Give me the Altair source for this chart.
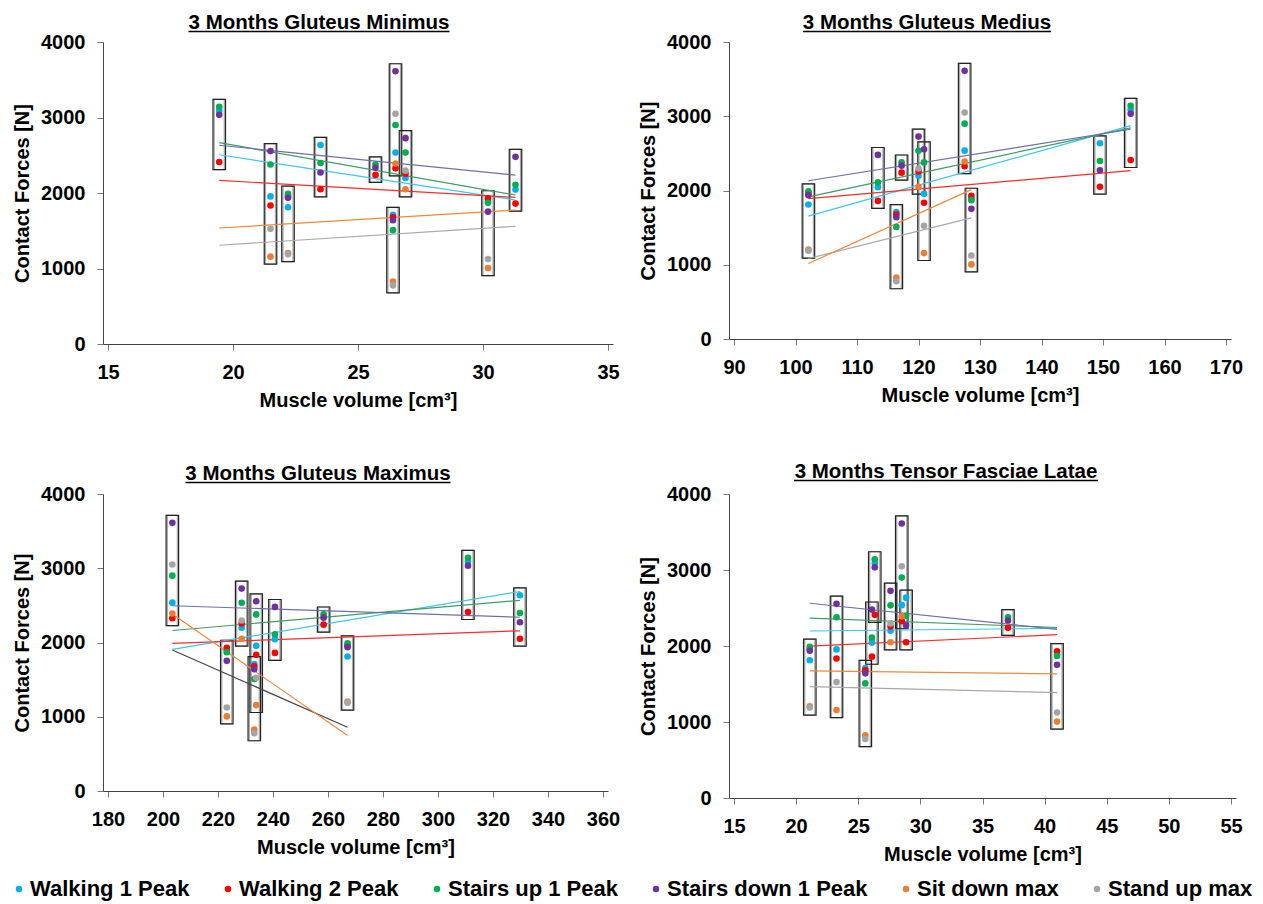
import altair as alt
import pandas as pd

# ---------------- data ----------------
subjects = ["S1", "S2", "S3", "S4", "S5", "S6", "S7", "S8", "S9", "S10"]

# muscle volumes [cm³] per subject
vol_gmin = [19.45, 21.5, 22.2, 23.5, 25.7, 26.5, 26.4, 26.9, 30.2, 31.3]
vol_gmed = [154.5, 120.9, 102.1, 149.5, 117.25, 127.5, 116.4, 120.0, 128.6, 113.4]
vol_gmax = [310.9, 233.9, 267.1, 329.8, 258.4, 203.4, 233.2, 228.6, 223.2, 240.7]
vol_tfl = [26.33, 23.25, 21.1, 28.85, 37.05, 28.5, 25.57, 27.6, 41.0, 26.1]

# contact forces [N] per subject
walking1 = [3090, 1955, 1812, 2636, None, 2537, 1710, 2200, 1895, 2045]
walking2 = [2410, 1835, 1960, 2050, 2240, 2327, 1680, 2256, 1930, 1860]
stairs_up = [3140, 2378, 1990, 2398, 2378, 2900, 1508, 2535, 1870, 2110]
stairs_down = [3035, 2555, 1937, 2272, 2335, 3612, 1640, 2726, 1753, 2479]
sit_down = [None, 1157, 1205, None, None, 2390, 826, 2050, 1005, None]
stand_up = [None, 1525, 1190, None, None, 3050, 777, 2296, 1125, None]

series_names = ["Walking 1 Peak", "Walking 2 Peak", "Stairs up 1 Peak",
                "Stairs down 1 Peak", "Sit down max", "Stand up max"]
forces = [walking1, walking2, stairs_up, stairs_down, sit_down, stand_up]

dot_colors = ["#00B0F0", "#FF0000", "#00B050", "#7030A0", "#ED7D31", "#A5A5A5"]
line_colors = ["#3CC6F2", "#FF2A2A", "#3F9C64", "#6E6EAA", "#A8A8A8", "#F0883A"]
line_colors_dark = ["#3CC6F2", "#FF2A2A", "#3F9C64", "#6E6EAA", "#454545", "#F0883A"]

FONT = "Liberation Sans, Arial, sans-serif"
Y_TICKS = [0, 1000, 2000, 3000, 4000]


def make_panel(title, vols, xdom, xticks, w, h, extent, lcolors, title_cx, title_w,
               title_y=-13):
    rows = []
    for k, name in enumerate(series_names):
        for i, s in enumerate(subjects):
            v = forces[k][i]
            if v is not None:
                rows.append({"subject": s, "volume": vols[i], "force": v,
                             "series": name, "k": k})
    df = pd.DataFrame(rows)

    xs = alt.Scale(domain=xdom, nice=False, zero=False)
    ys = alt.Scale(domain=[0, 4000], nice=False)
    xax = alt.Axis(values=xticks, title="Muscle volume [cm³]", format="d")
    yax = alt.Axis(values=Y_TICKS, title="Contact Forces [N]", format="d")

    def X(f):
        return alt.X(f + ":Q", scale=xs, axis=xax)

    def Y(f):
        return alt.Y(f + ":Q", scale=ys, axis=yax)

    base = alt.Chart(df)

    box_src = base.transform_aggregate(
        lo="min(force)", hi="max(force)", groupby=["subject", "volume"]
    ).transform_calculate(ylo="datum.lo - 100", yhi="datum.hi + 100")

    inner = box_src.mark_bar(size=10, fillOpacity=0, stroke="#a8a8a8",
                             strokeWidth=1.2).encode(x=X("volume"), y=Y("ylo"), y2="yhi:Q")
    outer = box_src.mark_bar(size=12.5, fillOpacity=0, stroke="#222222",
                             strokeWidth=1.2).encode(x=X("volume"), y=Y("ylo"), y2="yhi:Q")

    reg_kwargs = {"groupby": ["series"]}
    if extent is not None:
        reg_kwargs["extent"] = extent
    lines = base.transform_regression("volume", "force", **reg_kwargs).mark_line(
        strokeWidth=1.2
    ).encode(
        x=X("volume"), y=Y("force"),
        stroke=alt.Stroke("series:N", scale=alt.Scale(domain=series_names, range=lcolors),
                          legend=None),
    )

    dots = base.mark_circle(size=44, opacity=1).encode(
        x=X("volume"), y=Y("force"),
        color=alt.Color(
            "series:N",
            scale=alt.Scale(domain=series_names, range=dot_colors),
            legend=alt.Legend(
                title=None, orient="none", legendX=-95, legendY=836,
                direction="horizontal", columns=6,
                symbolType="circle", symbolSize=42, symbolStrokeWidth=0,
                labelFont=FONT, labelFontSize=22, labelFontWeight="bold",
                labelColor="black", labelLimit=0, columnPadding=27, labelOffset=0,
            ),
        ),
    )

    tdf = pd.DataFrame({"label": [title]})
    ttext = alt.Chart(tdf).mark_text(
        font=FONT, fontSize=20.5, fontWeight="bold", align="center",
        baseline="alphabetic", color="black"
    ).encode(x=alt.value(title_cx), y=alt.value(title_y), text="label:N")
    tline = alt.Chart(tdf).mark_rule(strokeWidth=1.5, color="black").encode(
        x=alt.value(title_cx - title_w / 2), x2=alt.value(title_cx + title_w / 2),
        y=alt.value(title_y + 2.5)
    )

    return alt.layer(inner, outer, lines, dots, ttext, tline).properties(width=w, height=h)


p1 = make_panel("3 Months Gluteus Minimus", vol_gmin, [15, 35], [15, 20, 25, 30, 35],
                510, 302, [19.45, 31.3], line_colors, 216, 261)
p2 = make_panel("3 Months Gluteus Medius", vol_gmed, [90, 170],
                [90, 100, 110, 120, 130, 140, 150, 160, 170],
                502, 297, None, line_colors, 198, 248)
p3 = make_panel("3 Months Gluteus Maximus", vol_gmax, [180, 360],
                [180, 200, 220, 240, 260, 280, 300, 320, 340, 360],
                505, 297, None, line_colors_dark, 215, 265, title_y=-14)
p4 = make_panel("3 Months Tensor Fasciae Latae", vol_tfl, [15, 55],
                [15, 20, 25, 30, 35, 40, 45, 50, 55],
                507, 304, None, line_colors, 217, 304, title_y=-16)

res = dict(x="independent", y="independent", stroke="independent")
top = alt.hconcat(p1, p2, spacing=18).resolve_scale(**res)
bottom = alt.hconcat(p3, p4, spacing=18).resolve_scale(**res)

chart = alt.vconcat(top, bottom, spacing=52).resolve_scale(**res).configure(
    padding={"left": 0, "top": 5, "right": 2, "bottom": 2}
).configure_view(stroke=None).configure_axis(
    labelFont=FONT, labelFontSize=20, labelFontWeight="bold", labelColor="black",
    titleFont=FONT, titleFontSize=20, titleFontWeight="bold", titleColor="black",
    grid=False, tickSize=6, domainColor="#444444", tickColor="#777777",
    labelPadding=12, titlePadding=8,
)

chart.save("out.html", embed_options={"renderer": "svg", "actions": False})
